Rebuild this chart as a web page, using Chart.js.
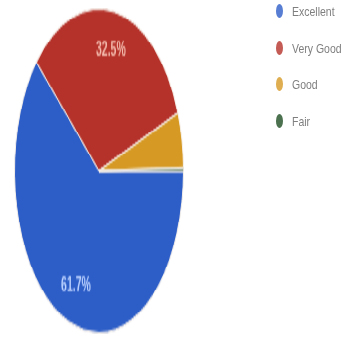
<!DOCTYPE html>
<html>
<head>
<meta charset="utf-8">
<script src="https://cdn.jsdelivr.net/npm/chart.js@4.4.0/dist/chart.umd.min.js"></script>
<style>
  html, body { margin: 0; padding: 0; background: #fff; }
  #wrap { position: relative; width: 349px; height: 337px; overflow: hidden; filter: blur(0.5px); }
  /* the reference pie is squashed into a tall ellipse, so the round chart is stretched */
  #pie { position: absolute; left: 14px; top: 8px; width: 170px; height: 170px;
         transform: scaleY(1.915); transform-origin: 0 0; }
  #legend { position: absolute; left: 276px; top: -7px; margin: 0; padding: 0; list-style: none;
            font: 10.5px "Liberation Sans", Arial, sans-serif; color: #7f7f7f; }
  #legend li { height: 36.5px; display: flex; align-items: center; }
  #legend .m { width: 7px; height: 14px; border-radius: 50%; margin-right: 9px; opacity: 0.8; }
  #legend .t { display: inline-block; transform: scaleY(1.2); }
</style>
</head>
<body>
<div id="wrap">
  <div id="pie"><canvas id="myChart"></canvas></div>
  <ul id="legend"></ul>
</div>
<script>
const categories = ['Excellent', 'Very Good', 'Good', 'Fair'];
const shares = [61.7, 32.5, 5.5, 0.3];

const sliceColors = ['#2d5ec8', '#b5322a', '#d69a24', '#1e4d22'];
const labelColors = ['#bcd2ff', '#f4bcae', '#fff', '#fff'];

// percentage text inside the big slices
const sliceLabels = {
  id: 'sliceLabels',
  afterDatasetsDraw(chart) {
    const { ctx } = chart;
    const meta = chart.getDatasetMeta(0);
    ctx.save();
    ctx.font = 'bold 10.5px "Liberation Sans", Arial, sans-serif';
    ctx.textAlign = 'center';
    ctx.textBaseline = 'middle';
    meta.data.forEach((arc, i) => {
      if (shares[i] < 10) return;
      const { x, y, startAngle, endAngle, outerRadius } =
        arc.getProps(['x', 'y', 'startAngle', 'endAngle', 'outerRadius'], true);
      const mid = (startAngle + endAngle) / 2;
      const r = outerRadius * 0.76;
      ctx.fillStyle = labelColors[i];
      ctx.fillText(shares[i].toFixed(1) + '%', x + Math.cos(mid) * r, y + Math.sin(mid) * r);
    });
    ctx.restore();
  }
};

new Chart(document.getElementById('myChart'), {
  type: 'pie',
  data: {
    labels: categories,
    datasets: [{
      data: shares,
      backgroundColor: sliceColors,
      borderColor: '#f6f0ea',
      borderWidth: 1
    }]
  },
  options: {
    responsive: true,
    maintainAspectRatio: false,
    animation: false,
    rotation: 90,
    layout: { padding: 0 },
    plugins: {
      legend: { display: false },
      tooltip: { enabled: false }
    }
  },
  plugins: [sliceLabels]
});

const legend = document.getElementById('legend');
categories.forEach((name, i) => {
  const li = document.createElement('li');
  const m = document.createElement('span');
  m.className = 'm';
  m.style.background = sliceColors[i];
  const t = document.createElement('span');
  t.className = 't';
  t.textContent = name;
  li.appendChild(m);
  li.appendChild(t);
  legend.appendChild(li);
});
</script>
</body>
</html>
